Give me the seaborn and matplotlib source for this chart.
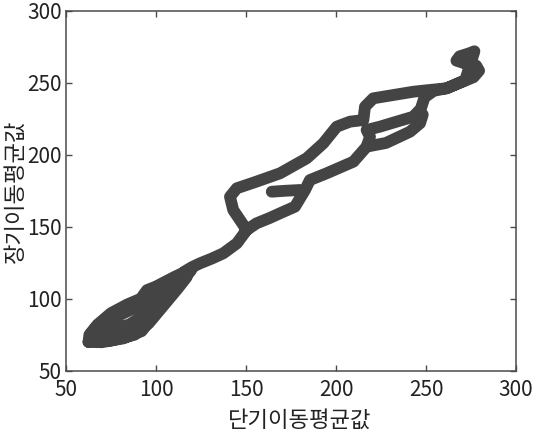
import numpy as np
import pandas as pd
import seaborn as sns
import matplotlib
matplotlib.use("Agg")
import matplotlib.pyplot as plt

# ---- data ----
# main trajectory: cluster -> rise -> lower branch -> top curl -> back via upper branch
cluster_x = [62.5, 70, 82, 92, 99, 108, 114, 119, 120, 110, 100, 95, 91.5, 84, 75, 67.5, 63, 62.5,
             64, 75, 88, 96, 104, 112, 117, 112, 104, 96, 86, 76, 68, 64,
             68, 80, 90, 97, 103, 108, 100, 92, 82, 73, 68,
             72, 85, 93, 99, 104, 110, 116, 120]
cluster_y = [70, 69.8, 72.5, 77.5, 89, 102, 112, 119, 121, 115, 108.5, 106, 100, 96, 90, 82, 75, 70,
             72, 71, 75, 83, 95, 107, 115, 113, 108, 101, 95, 88, 82, 76,
             74, 76, 81, 90, 100, 108, 103, 96, 90, 85, 80,
             78, 82, 88, 96, 104, 112, 119, 122]
rise_x = [124.4, 131.1, 137.4, 144.9, 150.4, 155.8, 162.9]
rise_y = [124.6, 128, 131.6, 138.5, 147.8, 152.4, 156]
lower_x = [168.9, 177.2, 182.8, 185.5, 194.8, 209.7, 217.0, 218.9, 217.0, 224.4, 233.7, 242.9,
           247.1, 249.2, 254.3]
lower_y = [159.4, 164.0, 175.6, 182.5, 187.2, 195.3, 205.7, 212.6, 217.3, 219.6, 223.1, 226.5,
           232, 240, 244.5]
top_x = [261.5, 269.7, 276.4, 279.5, 277.9, 271.8, 266.9, 268.7, 273.8, 276.9]
top_y = [246.3, 250.5, 254, 258.5, 262, 263.5, 265.5, 268.5, 270.5, 272]
back_x = [271.8, 261.5, 251.2, 243.0, 231.8, 220.7, 216.1, 215.2, 207.8, 200.4, 192.9, 183.7,
          168.9, 155.8, 144.9, 141.1, 142.9, 150.4]
back_y = [252, 246.3, 245, 243.9, 241.6, 239.3, 233.5, 224.2, 223.1, 219.6, 208.0, 197.6,
          187.2, 181.4, 176.8, 170.9, 161.7, 147.8]
# short side strands
spur_x = [164.3, 171.2, 180.0]
spur_y = [174.4, 175, 175.6]
sparse_x = [217.0, 227.8, 241.1, 246.7, 248.2]
sparse_y = [205.7, 208.3, 216.1, 222, 228]

x_ticks = [50, 100, 150, 200, 250, 300]
y_ticks = [50, 100, 150, 200, 250, 300]
x_label = "단기이동평균값"
y_label = "장기이동평균값"

main_x = cluster_x + rise_x + lower_x + top_x + back_x
main_y = cluster_y + rise_y + lower_y + top_y + back_y
df = pd.DataFrame({
    "short": main_x + spur_x + sparse_x,
    "long": main_y + spur_y + sparse_y,
    "seg": [0] * len(main_x) + [1] * len(spur_x) + [2] * len(sparse_x),
})

sns.set_style("ticks")
plt.rcParams["font.family"] = ["Liberation Sans Narrow", "Noto Sans CJK KR", "DejaVu Sans"]

fig = plt.figure(figsize=(5.38, 4.41), dpi=100)
ax = fig.add_axes([66 / 538, 1 - 370.7 / 441, 450 / 538, 359.7 / 441])

sns.lineplot(data=df, x="short", y="long", units="seg", estimator=None, sort=False,
             color="#444444", linewidth=8.5, solid_capstyle="round",
             solid_joinstyle="round", legend=False, ax=ax)

ax.set_xlim(50, 300)
ax.set_ylim(50, 300)
ax.set_xticks(x_ticks)
ax.set_yticks(y_ticks)
ax.set_xticklabels([str(v) for v in x_ticks])
ax.set_yticklabels([str(v) for v in y_ticks])
for s in ax.spines.values():
    s.set_visible(True)
    s.set_color("#4a4a4a")
    s.set_linewidth(1.1)
ax.tick_params(direction="in", length=4, width=1, color="#4a4a4a",
               top=True, right=True, labelsize=15, labelcolor="#222222")
ax.tick_params(axis="x", pad=6)
ax.tick_params(axis="y", pad=3)
ax.set_xlabel(x_label, family=["Noto Sans CJK KR", "DejaVu Sans"], fontsize=16,
              color="#222222")
ax.set_ylabel(y_label, family=["Noto Sans CJK KR", "DejaVu Sans"], fontsize=16,
              color="#222222")
ax.xaxis.set_label_coords(0.52, -0.105)
ax.yaxis.set_label_coords(-0.087, 0.5)

fig.savefig("out.png", dpi=100, facecolor="white")
